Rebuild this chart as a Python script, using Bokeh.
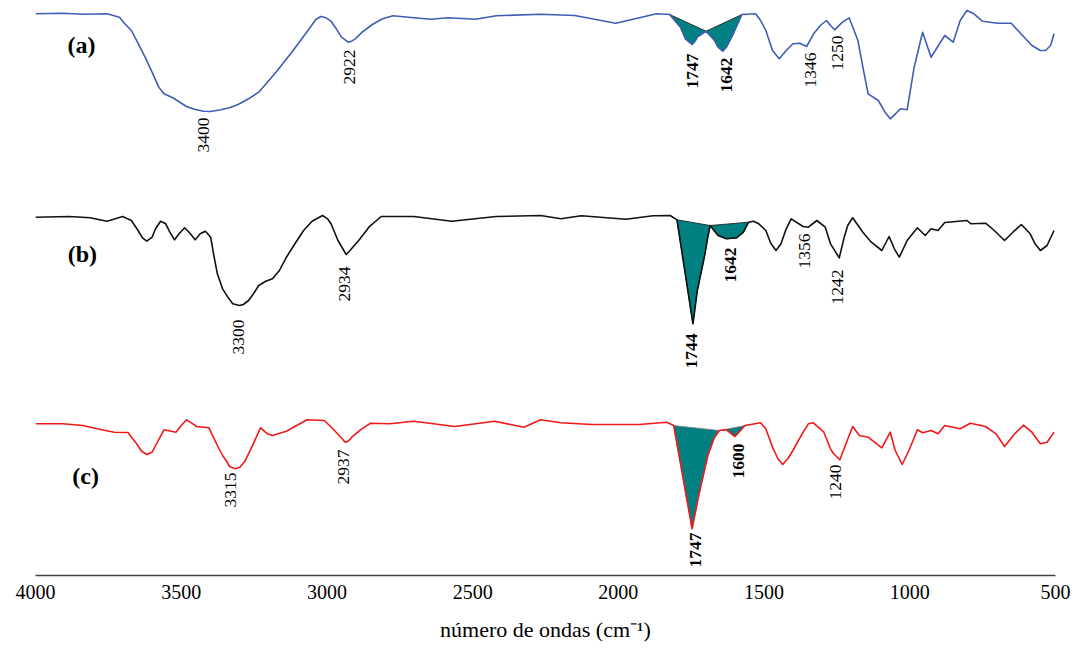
import numpy as np
from bokeh.plotting import figure
from bokeh.models import Range1d, FixedTicker, ColumnDataSource
from bokeh.core.properties import value
from bokeh.embed import file_html
from bokeh.resources import INLINE

# ---- spectrum (a) : wavenumber / transmittance depth (arb. units, offset trace) ----
wn_a = [4000, 3907, 3837, 3754, 3712, 3695, 3671, 3647, 3624, 3600, 3577, 3559, 3529, 3482, 3452, 3423, 3400, 3364, 3334, 3305,
        3269, 3234, 3175, 3116, 3057, 3039, 3021, 3003, 2986, 2968, 2950, 2927, 2915, 2903, 2879, 2844, 2809, 2773, 2702, 2643,
        2584, 2490, 2419, 2267, 2150, 2009, 1869, 1824, 1787, 1770, 1747, 1735, 1729, 1699, 1670, 1658, 1642, 1629, 1611, 1576,
        1529, 1512, 1494, 1471, 1448, 1424, 1401, 1377, 1354, 1330, 1307, 1286, 1272, 1258, 1231, 1208, 1178, 1161, 1143, 1108,
        1085, 1067, 1049, 1032, 1009, 985, 956, 927, 880, 851, 827, 804, 780, 751, 698, 652, 610, 581, 552, 534, 517, 505]
t_a = [13.3, 12.7, 13.7, 13.3, 16.7, 22.7, 30, 43.3, 56.7, 71.7, 86.7, 93.3, 97.3, 106, 109, 110.7, 111, 109.3, 107.3, 104,
       98.3, 91.7, 71.7, 50, 26.7, 19.3, 16, 17.3, 20.7, 28.3, 36.7, 41.7, 40.7, 38.3, 31.7, 24, 18.3, 15.3, 17.3, 18.7,
       17.3, 18.7, 15.3, 13.7, 15, 22.7, 13.3, 14, 26.7, 38.3, 44, 40, 36.7, 30.7, 40, 46.7, 50.7, 46.7, 36.7, 14,
       13.3, 20, 30, 50, 58.3, 50, 43.3, 42.7, 46, 33.3, 25, 20, 25, 29.3, 21.7, 17.3, 40, 66.7, 93.3, 100,
       111.7, 118.3, 113.3, 108.3, 109.3, 66.7, 31.7, 56.7, 35, 41.7, 20, 10, 13.3, 20.7, 22.7, 22.7, 36, 45, 50, 50, 45, 33.3]

# ---- spectrum (b) ----
wn_b = [4000, 3884, 3813, 3754, 3701, 3671, 3648, 3633, 3618, 3600, 3588, 3571, 3553, 3539, 3523, 3506, 3488, 3470, 3452, 3435,
        3417, 3399, 3388, 3376, 3358, 3340, 3323, 3300, 3287, 3269, 3252, 3234, 3210, 3187, 3163, 3139, 3110, 3080, 3051, 3015,
        2998, 2986, 2962, 2934, 2921, 2891, 2856, 2814, 2702, 2572, 2419, 2267, 2197, 2127, 1974, 1881, 1822, 1799, 1744, 1729,
        1705, 1693, 1685, 1658, 1629, 1594, 1571, 1553, 1536, 1518, 1494, 1477, 1459, 1442, 1424, 1407, 1366, 1348, 1319, 1290,
        1272, 1242, 1225, 1213, 1196, 1161, 1132, 1096, 1071, 1053, 1036, 1009, 974, 947, 927, 903, 880, 804, 790, 740,
        710, 675, 646, 617, 587, 570, 552, 529, 505]
t_b = [216.7, 216, 217.3, 220.7, 216, 220, 230, 237.3, 240.7, 236.7, 228.3, 220.7, 223.3, 231.7, 239.3, 232.7, 227.3, 232.7, 239.3, 233.3,
       230.7, 236.7, 255, 273.3, 288.3, 296.7, 303.3, 305, 304, 300, 293.3, 285, 280.7, 278.3, 270, 256.7, 243.3, 230, 220.7, 215,
       218.3, 223.3, 240, 254, 250, 240, 226.7, 216, 216, 220.7, 216, 215, 218.3, 215.3, 218.7, 215.3, 215, 219.3, 323.3, 290,
       256.7, 236.7, 225, 235, 238.3, 237.3, 231.7, 221.7, 220.7, 223.3, 230, 242.7, 250, 243.3, 228.3, 218.3, 226, 226.7, 220, 226.7,
       243.3, 257.3, 236.7, 225, 217.3, 231.7, 241.7, 250, 236, 248.3, 256.7, 240, 227.3, 235, 228.3, 230, 222, 220, 223.3, 222.7,
       230, 240, 231.7, 224, 233.3, 243.3, 250, 245, 230]

# ---- spectrum (c) ----
wn_c = [4000, 3907, 3837, 3789, 3730, 3683, 3653, 3636, 3618, 3600, 3588, 3559, 3518, 3500, 3482, 3464, 3447, 3405, 3376, 3358,
        3346, 3334, 3315, 3299, 3281, 3258, 3228, 3204, 3187, 3139, 3104, 3068, 3009, 2980, 2958, 2937, 2926, 2915, 2885, 2850,
        2785, 2702, 2561, 2425, 2324, 2267, 2197, 2091, 1928, 1834, 1810, 1747, 1723, 1693, 1670, 1653, 1629, 1600, 1565, 1512,
        1494, 1471, 1453, 1436, 1418, 1401, 1366, 1348, 1331, 1295, 1272, 1262, 1240, 1219, 1196, 1173, 1143, 1096, 1067, 1050,
        1026, 1003, 974, 956, 927, 903, 880, 827, 792, 740, 704, 675, 640, 610, 581, 552, 529, 505]
t_c = [423.3, 423.3, 425, 428.3, 431.7, 432, 443.3, 450.7, 454, 451.7, 445, 429.3, 431.7, 425, 419.3, 422.7, 426, 427.3, 445, 455,
       460, 466, 468.3, 466.7, 460.7, 446.7, 427.3, 433.3, 435, 430.7, 425, 419.3, 420, 428.3, 435, 441.7, 440.5, 436.7, 429.3, 422.7,
       423.3, 420.7, 426, 420.7, 426.7, 419.3, 422.3, 424, 424, 421.7, 425, 528.3, 493.3, 455, 436.7, 430, 429.3, 436, 425, 422.3,
       428.3, 446.7, 458, 464, 458, 450, 431.7, 423.3, 422.3, 431.7, 448.3, 453, 459.3, 443.3, 426, 435, 436.7, 447.3, 431.7, 450,
       464, 450, 429.3, 432.3, 430, 433.3, 425, 428.3, 422.7, 426, 433.3, 446, 433.3, 424.7, 431.7, 443.3, 441.7, 431.7]

# shaded carbonyl bands (wavenumber limits)
bands_a = [(1824, 1699), (1699, 1576)]
bands_b = [(1799, 1685), (1685, 1553)]
bands_c = [(1810, 1653), (1653, 1565)]

# peak annotations
lab_a_text = ["3400", "2922", "1747", "1642", "1346", "1250"]
lab_a_x = [3423, 2921, 1746, 1629, 1342, 1249]
lab_a_top = [117, 49, 53, 57, 52, 35]
lab_a_bold = [False, False, True, True, False, False]

lab_b_text = ["3300", "2934", "1744", "1642", "1356", "1242"]
lab_b_x = [3305, 2938, 1749, 1614, 1360, 1249]
lab_b_top = [319, 266, 333, 247, 233, 269]
lab_b_bold = [False, False, True, True, False, False]

lab_c_text = ["3315", "2937", "1747", "1600", "1240"]
lab_c_x = [3331, 2944, 1735, 1588, 1255]
lab_c_top = [472, 449, 532, 443, 464]
lab_c_bold = [False, False, True, True, False]

sample_names = ["(a)", "(b)", "(c)"]
sample_x = [3842, 3839, 3828]
sample_y = [44, 253, 475]

x_ticks = [4000, 3500, 3000, 2500, 2000, 1500, 1000, 500]

SERIF = "Liberation Serif"
TEAL = "#008080"

p = figure(width=1075, height=653, x_range=Range1d(4000, 500), y_range=Range1d(575, 0),
           output_backend="svg", toolbar_location=None, y_axis_location=None,
           min_border_left=35, min_border_right=20, min_border_top=0, min_border_bottom=78)
p.grid.visible = False
p.outline_line_color = None
p.background_fill_color = "white"
p.border_fill_color = "white"

xa = p.xaxis[0]
xa.ticker = FixedTicker(ticks=x_ticks)
xa.major_tick_out = 0
xa.major_tick_in = 0
xa.minor_tick_out = 0
xa.minor_tick_in = 0
xa.axis_line_color = "#444444"
xa.axis_line_width = 1.6
xa.major_label_text_font = SERIF
xa.major_label_text_font_size = "20px"
xa.major_label_text_color = "black"
xa.major_label_standoff = 9
xa.axis_label = "número de ondas (cm⁻¹)"
xa.axis_label_text_font = SERIF
xa.axis_label_text_font_size = "22px"
xa.axis_label_text_font_style = "normal"
xa.axis_label_text_color = "black"
xa.axis_label_standoff = 15


def draw(wn, t, bands, color, edge):
    wn = np.array(wn, dtype=float)
    t = np.array(t, dtype=float)
    for hi, lo in bands:
        m = (wn <= hi) & (wn >= lo)
        p.patch(wn[m], t[m], fill_color=TEAL, fill_alpha=1.0, line_color=edge, line_width=0.9)
    p.line(wn, t, line_color=color, line_width=1.6, line_join="round")


draw(wn_a, t_a, bands_a, "#3F5DB5", "#222222")
draw(wn_b, t_b, bands_b, "#111111", "#222222")
draw(wn_c, t_c, bands_c, "#F01818", "#888888")


def labels(xs, tops, texts, bolds):
    for style in (False, True):
        sel = [i for i, b in enumerate(bolds) if b == style]
        if not sel:
            continue
        src = ColumnDataSource(dict(x=[xs[i] for i in sel], y=[tops[i] for i in sel], t=[texts[i] for i in sel]))
        p.text(x="x", y="y", text="t", source=src, angle=np.pi / 2,
               text_align="right", text_baseline="middle",
               text_font=value(SERIF), text_font_size="17.5px",
               text_font_style="bold" if style else "normal", text_color="black")


labels(lab_a_x, lab_a_top, lab_a_text, lab_a_bold)
labels(lab_b_x, lab_b_top, lab_b_text, lab_b_bold)
labels(lab_c_x, lab_c_top, lab_c_text, lab_c_bold)

p.text(x=sample_x, y=sample_y, text=sample_names, text_align="center", text_baseline="middle",
       text_font=value(SERIF), text_font_size="24px", text_font_style="bold", text_color="black")

open("out.html", "w").write(file_html(p, INLINE))
